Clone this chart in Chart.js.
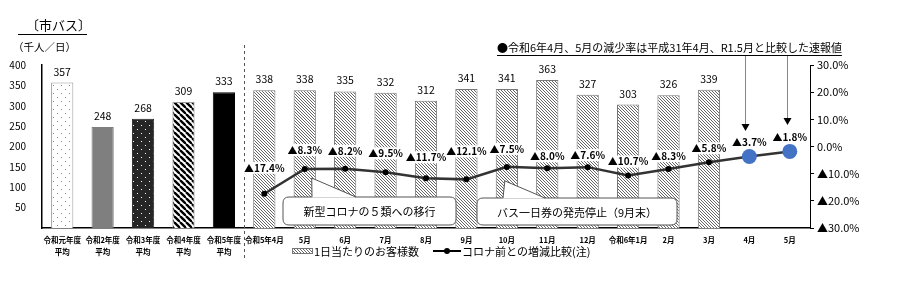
<!DOCTYPE html>
<html>
<head>
<meta charset="utf-8">
<script src="https://cdn.jsdelivr.net/npm/chart.js@4.4.1/dist/chart.umd.min.js"></script>
<style>
  html, body { margin: 0; padding: 0; background: #fff; }
  #wrap { width: 900px; height: 285px; position: relative; }
</style>
</head>
<body>
<div id="wrap"><canvas id="myChart"></canvas></div>
<script>
// categories (x axis)
const categories = [
  ["令和元年度", "平均"], ["令和2年度", "平均"], ["令和3年度", "平均"],
  ["令和4年度", "平均"], ["令和5年度", "平均"],
  "令和5年4月", "5月", "6月", "7月", "8月", "9月", "10月", "11月", "12月",
  "令和6年1月", "2月", "3月", "4月", "5月",
];
// 1日当たりのお客様数 (千人/日)
const passengers = [357, 248, 268, 309, 333,
  338, 338, 335, 332, 312, 341, 341, 363, 327, 303, 326, 339, null, null];
// コロナ前との増減比較 (%)
const changeRate = [null, null, null, null, null,
  -17.4, -8.3, -8.2, -9.5, -11.7, -12.1, -7.5, -8.0, -7.6, -10.7, -8.3, -5.8, -3.7, -1.8];
const leftTicks = [0, 50, 100, 150, 200, 250, 300, 350, 400];
const rightTicks = [-30, -20, -10, 0, 10, 20, 30];

// label lift above each line point (px) -- style only
const labelLift = [0, 0, 0, 0, 0, 26, 19, 18, 19, 21, 28, 18, 12, 12, 14, 13, 14, 14, 14];

const NUM = '"Liberation Sans Narrow", "Noto Sans CJK JP", sans-serif';
const JP = '"Noto Sans CJK JP", sans-serif';

function tile(size, draw) {
  const c = document.createElement("canvas");
  c.width = size; c.height = size;
  const g = c.getContext("2d");
  draw(g, size);
  return g.createPattern(c, "repeat");
}
function hatch(size, bg, fg, lw) {
  return tile(size, (g, s) => {
    g.fillStyle = bg; g.fillRect(0, 0, s, s);
    g.strokeStyle = fg; g.lineWidth = lw;
    for (let k = -1; k <= 1; k++) {
      g.beginPath(); g.moveTo(k * s, 0); g.lineTo(k * s + s, s); g.stroke();
    }
  });
}
function dots(size, bg, fg) {
  return tile(size, (g, s) => {
    g.fillStyle = bg; g.fillRect(0, 0, s, s);
    g.fillStyle = fg;
    g.fillRect(1, 1, 1, 1);
    g.fillRect(1 + s / 2, 1 + s / 2, 1, 1);
  });
}

const fineHatch = hatch(3, "#ffffff", "#666666", 1);
const barFills = [
  dots(8, "#ffffff", "#888888"),
  "#7f7f7f",
  dots(8, "#262626", "#ffffff"),
  hatch(6, "#ffffff", "#000000", 2.4),
  "#000000",
];
const barBorders = ["#999999", "#7f7f7f", "#262626", "#999999", "#000000"];
const bg = passengers.map((v, i) => (i < 5 ? barFills[i] : fineHatch));
const bd = passengers.map((v, i) => (i < 5 ? barBorders[i] : "#777777"));

const pointR = changeRate.map((v, i) => (v == null ? 0 : i >= 17 ? 7.5 : 3));
const pointC = changeRate.map((v, i) => (i >= 17 ? "#4472C4" : "#000000"));

function fmtPct(v) {
  return (v < 0 ? "▲" : "") + Math.abs(v).toFixed(1) + "%";
}

function roundRect(ctx, x, y, w, h, r) {
  ctx.beginPath();
  ctx.moveTo(x + r, y);
  ctx.lineTo(x + w - r, y);
  ctx.quadraticCurveTo(x + w, y, x + w, y + r);
  ctx.lineTo(x + w, y + h - r);
  ctx.quadraticCurveTo(x + w, y + h, x + w - r, y + h);
  ctx.lineTo(x + r, y + h);
  ctx.quadraticCurveTo(x, y + h, x, y + h - r);
  ctx.lineTo(x, y + r);
  ctx.quadraticCurveTo(x, y, x + r, y);
  ctx.closePath();
}

function callout(ctx, box, tip, base, text) {
  ctx.save();
  roundRect(ctx, box.x, box.y, box.w, box.h, 6);
  ctx.fillStyle = "#fff";
  ctx.fill();
  ctx.strokeStyle = "#555";
  ctx.lineWidth = 1;
  ctx.stroke();
  // pointer wedge
  ctx.beginPath();
  ctx.moveTo(base[0], box.y + 0.5);
  ctx.lineTo(tip[0], tip[1]);
  ctx.lineTo(base[1], box.y + 0.5);
  ctx.closePath();
  ctx.fill();
  ctx.beginPath();
  ctx.moveTo(base[0], box.y);
  ctx.lineTo(tip[0], tip[1]);
  ctx.lineTo(base[1], box.y);
  ctx.stroke();
  ctx.fillStyle = "#000";
  ctx.font = "11px " + JP;
  ctx.textAlign = "center";
  ctx.textBaseline = "middle";
  ctx.fillText(text, box.x + box.w / 2, box.y + box.h / 2 + 1);
  ctx.restore();
}

function arrow(ctx, x, y1, y2) {
  ctx.save();
  ctx.strokeStyle = "#888";
  ctx.lineWidth = 1;
  ctx.beginPath(); ctx.moveTo(x, y1); ctx.lineTo(x, y2 - 6); ctx.stroke();
  ctx.fillStyle = "#000";
  ctx.beginPath();
  ctx.moveTo(x - 4, y2 - 7); ctx.lineTo(x + 4, y2 - 7); ctx.lineTo(x, y2);
  ctx.closePath(); ctx.fill();
  ctx.restore();
}

const decorations = {
  id: "decorations",
  beforeDatasetsDraw(chart) {
    const ctx = chart.ctx;
    // dashed separator between yearly averages and months
    const x = chart.scales.x.getPixelForValue(4.5);
    ctx.save();
    ctx.strokeStyle = "#555";
    ctx.setLineDash([3, 3]);
    ctx.lineWidth = 1;
    ctx.beginPath(); ctx.moveTo(Math.round(x) + 0.5, 45); ctx.lineTo(Math.round(x) + 0.5, 258); ctx.stroke();
    ctx.restore();
  },
  afterDatasetsDraw(chart) {
    const ctx = chart.ctx;
    const barMeta = chart.getDatasetMeta(0);
    const lineMeta = chart.getDatasetMeta(1);

    ctx.save();
    // bar values
    ctx.font = "10.5px " + NUM;
    ctx.fillStyle = "#000";
    ctx.textAlign = "center";
    ctx.textBaseline = "middle";
    barMeta.data.forEach((el, i) => {
      if (passengers[i] == null) return;
      ctx.fillText(String(passengers[i]), el.x, el.y - 11);
    });

    // callouts
    const p6 = lineMeta.data[6], p11 = lineMeta.data[11];
    callout(ctx, { x: 283, y: 197, w: 173, h: 28 }, [p6.x + 7, p6.y + 9], [312, 356], "新型コロナの５類への移行");
    callout(ctx, { x: 477, y: 198, w: 200, h: 27 }, [p11.x - 2, p11.y + 14], [503, 545], "バス一日券の発売停止（9月末）");

    // line labels
    ctx.font = "bold 10px " + NUM;
    lineMeta.data.forEach((el, i) => {
      const v = changeRate[i];
      if (v == null) return;
      const t = fmtPct(v);
      const w = ctx.measureText(t).width;
      const y = el.y - labelLift[i];
      ctx.fillStyle = "#fff";
      ctx.fillRect(el.x - w / 2 - 1, y - 6, w + 2, 12);
      ctx.fillStyle = "#000";
      ctx.fillText(t, el.x, y);
    });

    // header texts
    ctx.textAlign = "left";
    ctx.font = "13px " + JP;
    ctx.fillText("〔市バス〕", 26, 25);
    ctx.fillRect(18, 34, 69, 1);
    ctx.font = "10.5px " + JP;
    ctx.fillText("（千人／日）", 13, 47);

    // top note with underline
    ctx.font = "11px " + JP;
    const note = "●令和6年4月、5月の減少率は平成31年4月、R1.5月と比較した速報値";
    ctx.fillText(note, 497, 48);
    const nw = ctx.measureText(note).width;
    ctx.fillRect(497, 55, nw, 1);

    // arrows from note to the preliminary values
    arrow(ctx, Math.round(lineMeta.data[17].x) - 3.5, 56, 131);
    arrow(ctx, Math.round(lineMeta.data[18].x) - 2.5, 56, 125);

    // legend
    const ly = 251;
    ctx.fillStyle = fineHatch;
    ctx.fillRect(292, ly - 3, 21, 6);
    ctx.strokeStyle = "#777";
    ctx.lineWidth = 1;
    ctx.strokeRect(292.5, ly - 2.5, 20, 5);
    ctx.fillStyle = "#000";
    ctx.font = "11px " + JP;
    ctx.fillText(chart.data.datasets[0].label, 314, ly + 1);
    ctx.strokeStyle = "#000";
    ctx.lineWidth = 2;
    ctx.beginPath(); ctx.moveTo(433, ly); ctx.lineTo(461, ly); ctx.stroke();
    ctx.beginPath(); ctx.arc(447, ly, 3, 0, Math.PI * 2); ctx.fill();
    ctx.fillText(chart.data.datasets[1].label, 462, ly + 1);
    ctx.restore();
  },
};

const data = {
  labels: categories,
  datasets: [
    {
      type: "bar",
      label: "1日当たりのお客様数",
      data: passengers,
      backgroundColor: bg,
      borderColor: bd,
      borderWidth: 1,
      barPercentage: 0.55,
      categoryPercentage: 1,
      yAxisID: "y",
      order: 2,
    },
    {
      type: "line",
      label: "コロナ前との増減比較(注)",
      data: changeRate,
      borderColor: "#333333",
      borderWidth: 2.5,
      pointRadius: pointR,
      pointBackgroundColor: pointC,
      pointBorderColor: pointC,
      pointBorderWidth: 0,
      yAxisID: "y2",
      order: 1,
      tension: 0,
    },
  ],
};

const config = {
  type: "bar",
  data: data,
  plugins: [decorations],
  options: {
    responsive: false,
    animation: false,
    devicePixelRatio: 1,
    layout: { padding: { top: 65, left: 0, right: 0, bottom: 0 } },
    plugins: {
      legend: { display: false },
      tooltip: { enabled: false },
    },
    scales: {
      x: {
        grid: { display: false },
        border: { display: true, color: "#000", width: 1.5 },
        ticks: {
          color: "#000",
          font: { family: JP, size: 7.5, weight: "bold", lineHeight: 1.5 },
          maxRotation: 0,
          autoSkip: false,
          padding: -1,
        },
        afterFit: (s) => { s.height = 57; },
      },
      y: {
        position: "left",
        min: 0,
        max: 400,
        afterBuildTicks: (s) => { s.ticks = leftTicks.map((v) => ({ value: v })); },
        grid: { display: false },
        border: { display: true, color: "#000", width: 1.5 },
        ticks: {
          color: "#000",
          font: { family: NUM, size: 10 },
          padding: 8,
          callback: (v) => (v === 0 ? "" : v),
        },
        afterFit: (s) => { s.width = 42; },
      },
      y2: {
        position: "right",
        min: -30,
        max: 30,
        afterBuildTicks: (s) => { s.ticks = rightTicks.map((v) => ({ value: v })); },
        grid: { drawOnChartArea: false, drawTicks: true, tickLength: 4, color: "#000" },
        border: { display: true, color: "#000", width: 1 },
        ticks: {
          color: "#000",
          font: { family: NUM, size: 11 },
          padding: 3,
          callback: (v) => fmtPct(v),
        },
        afterFit: (s) => { s.width = 90; },
      },
    },
  },
};

const cv = document.getElementById("myChart");
cv.width = 900;
cv.height = 285;
var myChart = new Chart(cv, config);
</script>
</body>
</html>
